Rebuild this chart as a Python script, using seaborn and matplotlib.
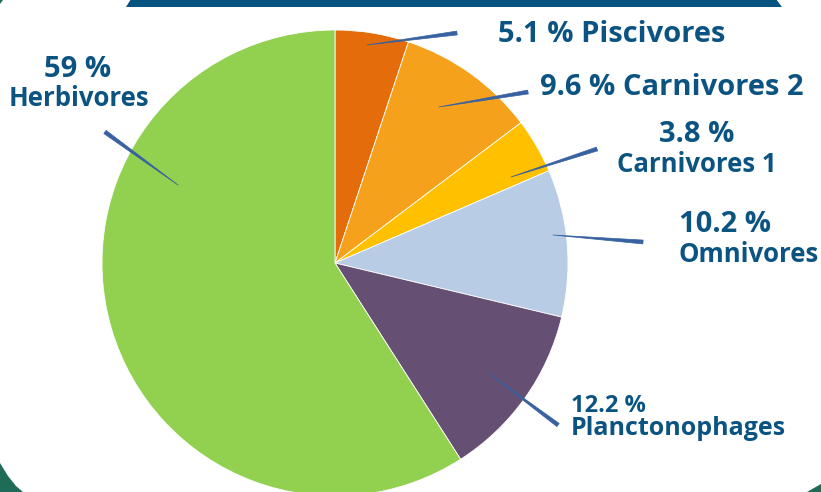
import matplotlib
matplotlib.use("Agg")
import matplotlib.pyplot as plt
import seaborn as sns

# Diet groups, share of biomass (%)
groups = ["Piscivores", "Carnivores 2", "Carnivores 1", "Omnivores",
          "Planctonophages", "Herbivores"]
shares = [5.1, 9.6, 3.8, 10.2, 12.2, 59]
slice_colors = ["#E46C0A", "#F5A11C", "#FFC000", "#B8CDE5", "#654F73", "#92D050"]

sns.set_theme(style="white")
plt.rcParams["font.family"] = ["Open Sans", "DejaVu Sans"]

W, H = 821, 492
TEXT = "#0B5482"
LEADER = "#3761A0"

fig = plt.figure(figsize=(W / 100, H / 100), dpi=100)
ax = fig.add_axes([0, 0, 1, 1])


def px(x, y):
    """Pixel position (origin top-left) -> data coordinates."""
    return x, H - y


# Decorative frame pieces
ax.fill([126, 131, 776, 782], [H - 7, H + 1, H + 1, H - 7], color="#07537F", lw=0, zorder=0)
ax.fill([0, 8, 16, 23, 0], [H - 463, H - 476, H - 486, H - 492, H - 492],
        color="#1E6B58", lw=0, zorder=0)
ax.fill([807, 821, 821], [H - 492, H - 484, H - 492], color="#1E6B58", lw=0, zorder=0)
ax.fill([0, 3, 0], [H, H, H - 4], color="#1E6B58", lw=0, zorder=0)

ax.pie(shares, colors=slice_colors, startangle=90, counterclock=False,
       center=px(335, 263), radius=233,
       wedgeprops=dict(edgecolor="white", linewidth=0.6))

# Label layout: (leader start on slice, leader end, text lines)
layout = {
    "Piscivores": dict(a=(367, 45), b=(457, 33),
                       lines=[("{v} % Piscivores", 498, 42, 21, "left")]),
    "Carnivores 2": dict(a=(439, 107), b=(528, 92),
                         lines=[("{v} % Carnivores 2", 540, 95, 21, "left")]),
    "Carnivores 1": dict(a=(511, 177), b=(597, 149),
                         lines=[("{v} %", 697, 142, 21, "center"),
                                ("Carnivores 1", 697, 172, 18.5, "center")]),
    "Omnivores": dict(a=(553, 235), b=(643, 242),
                      lines=[("{v} %", 679, 232, 21, "left"),
                             ("Omnivores", 679, 262, 18.5, "left")]),
    "Planctonophages": dict(a=(487, 372), b=(558, 425),
                            lines=[("{v} %", 571, 412, 17, "left"),
                                   ("Planctonophages", 571, 435, 18, "left")]),
    "Herbivores": dict(a=(178, 185), b=(105, 132),
                       lines=[("{v} %", 78, 77, 21, "center"),
                              ("Herbivores", 79, 106, 18.5, "center")]),
}

for name, value in zip(groups, shares):
    spec = layout[name]
    ax.annotate("", xy=px(*spec["a"]), xytext=px(*spec["b"]),
                arrowprops=dict(arrowstyle="wedge,tail_width=0.28,shrink_factor=0.5",
                                color=LEADER, lw=0.5, shrinkA=0, shrinkB=0,
                                mutation_scale=10))
    for fmt, x, y, size, ha in spec["lines"]:
        ax.text(*px(x, y), fmt.format(v=f"{value:g}"), color=TEXT,
                fontsize=size, fontweight="bold", ha=ha, va="baseline")

ax.set_xlim(0, W)
ax.set_ylim(0, H)
ax.set_aspect("equal")
ax.axis("off")

fig.savefig("out.png", dpi=100, facecolor="white")
